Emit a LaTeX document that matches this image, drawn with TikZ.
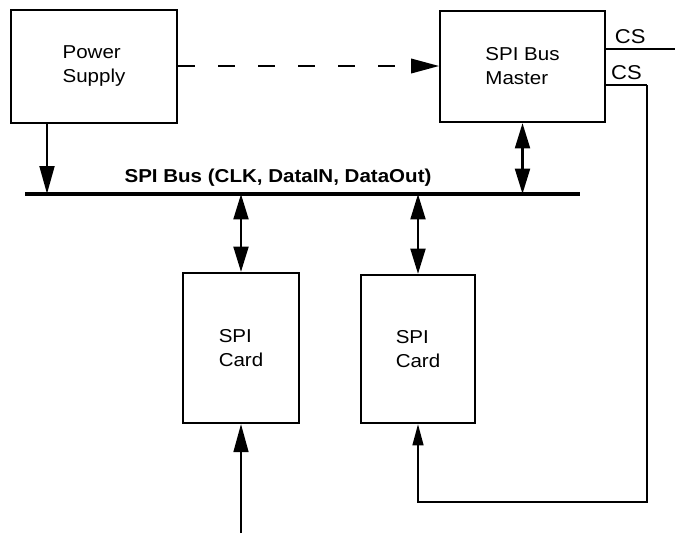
\documentclass[tikz,border=0pt]{standalone}
\usepackage{fontspec}
\setmainfont{Liberation Sans}[FakeStretch=1.1]
\usetikzlibrary{arrows.meta}

\begin{document}
\begin{tikzpicture}[x=0.75pt,y=-0.75pt,
  box/.style={draw,line width=1.5pt,align=left,inner sep=0pt,
    font=\fontsize{14}{18}\selectfont},
  link/.style={line width=2.2pt,-{Triangle[length=21pt,width=11pt]}},
  dlink/.style={line width=2.2pt,
    {Triangle[length=19pt,width=11pt]}-{Triangle[length=19pt,width=11pt]}},
  csline/.style={line width=1.6pt},
  cslabel/.style={font=\fontsize{15}{18}\selectfont}]
  \useasboundingbox (0,0) rectangle (675,533);
  % blocks
  \node[box,minimum width=124.5pt,minimum height=84.75pt] (power) at (94,66) {Power\\Supply};
  \node[box,minimum width=123.75pt,minimum height=83.25pt] (master) at (522.5,66.5) {SPI Bus\\Master};
  \node[box,minimum width=87pt,minimum height=112.5pt] (card1) at (241,348) {SPI\\Card};
  \node[box,minimum width=85.5pt,minimum height=111pt] (card2) at (418,349) {SPI\\Card};
  % the bus
  \coordinate (busL) at (25,194);
  \coordinate (busR) at (580,194);
  \coordinate (busP) at (47,194);
  \draw[line width=2.8pt] (busL) -- (busR);
  \node[font=\fontsize{14}{18}\selectfont\bfseries] (buslabel) at (278,178) {SPI Bus (CLK, DataIN, DataOut)};
  % links to the bus
  \draw[link] (power.south -| busP) -- (busP);
  \draw[line width=1.2pt,dash pattern=on 13pt off 17pt,-{Triangle[length=21pt,width=11pt]}]
    (power.east) -- (master.west |- power.east);
  \draw[dlink] (master.south) -- (master.south |- busR);
  \draw[dlink] (card1.north |- busL) -- (card1.north);
  \draw[dlink] (card2.north |- busL) -- (card2.north);
  % chip selects
  \coordinate (cs1) at (675,49);
  \coordinate (cs2) at (647,85);
  \coordinate (cs2low) at (647,502);
  \coordinate (feed) at (241,533);
  \draw[csline] (master.east |- cs1) -- node[cslabel,pos=0.35,above] {CS} (cs1);
  \draw[csline] (master.east |- cs2) -- node[cslabel,pos=0.5,above] {CS} (cs2);
  \draw[line width=1.8pt,-{Triangle[length=16pt,width=8pt]}] (cs2) -- (cs2low) -| (card2.south);
  \draw[link,line width=1.8pt] (feed) -- (card1.south);
\end{tikzpicture}
\end{document}
